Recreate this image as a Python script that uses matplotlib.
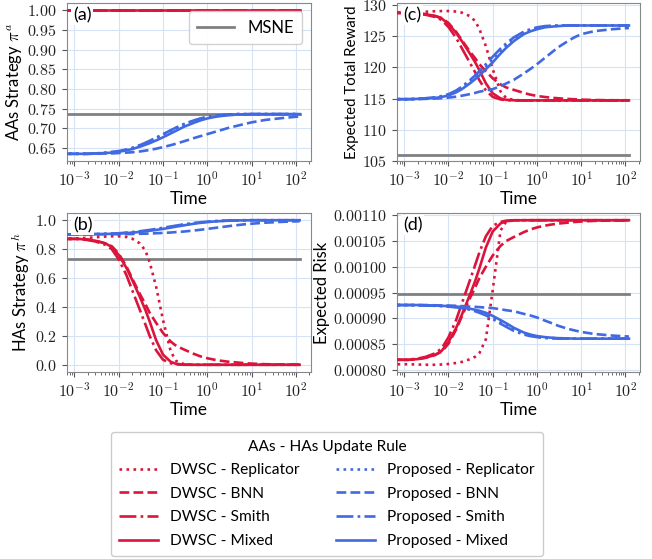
import matplotlib
matplotlib.use("Agg")
import matplotlib.pyplot as plt
from matplotlib.ticker import FuncFormatter, LogLocator, NullFormatter
import numpy as np

plt.rcParams['font.family'] = ['Lato', 'DejaVu Sans']
plt.rcParams['mathtext.fontset'] = 'cm'

# ---------------- data ----------------
T = [0, 0.0012, 0.002, 0.003, 0.005, 0.007, 0.01, 0.015, 0.02, 0.03, 0.04, 0.05, 0.07,
     0.1, 0.15, 0.2, 0.3, 0.5, 0.7, 1, 1.5, 2, 3, 5, 7, 10, 20, 50, 120]

rules = ['Replicator', 'BNN', 'Smith', 'Mixed']

# (a) AAs strategy pi^a
dwsc_a_rep = [1.0] * 29
dwsc_a_bnn = [1.0] * 29
dwsc_a_smith = [1.0] * 29
dwsc_a_mixed = [1.0] * 29
prop_a_rep = [0.635, 0.635, 0.635, 0.636, 0.637, 0.639, 0.641, 0.645, 0.649, 0.656, 0.662, 0.667, 0.675,
              0.684, 0.694, 0.701, 0.710, 0.719, 0.724, 0.728, 0.731, 0.733, 0.735, 0.736, 0.736, 0.736, 0.736, 0.736, 0.736]
prop_a_bnn = [0.635, 0.635, 0.635, 0.635, 0.636, 0.636, 0.637, 0.638, 0.639, 0.641, 0.643, 0.645, 0.648,
              0.652, 0.657, 0.661, 0.667, 0.675, 0.680, 0.685, 0.691, 0.695, 0.701, 0.707, 0.711, 0.715, 0.721, 0.726, 0.730]
prop_a_smith = [0.635, 0.635, 0.635, 0.636, 0.638, 0.640, 0.642, 0.646, 0.650, 0.657, 0.663, 0.668, 0.676,
                0.685, 0.695, 0.702, 0.711, 0.720, 0.725, 0.729, 0.732, 0.733, 0.735, 0.736, 0.736, 0.736, 0.736, 0.736, 0.736]
prop_a_mixed = [0.635, 0.635, 0.635, 0.636, 0.637, 0.638, 0.640, 0.644, 0.647, 0.653, 0.658, 0.662, 0.669,
                0.677, 0.687, 0.694, 0.704, 0.714, 0.720, 0.725, 0.729, 0.731, 0.733, 0.735, 0.735, 0.736, 0.736, 0.736, 0.736]
msne_a = 0.736

# (b) HAs strategy pi^h
dwsc_b_rep = [0.873, 0.875, 0.878, 0.882, 0.887, 0.889, 0.889, 0.884, 0.873, 0.84, 0.79, 0.71, 0.54,
              0.31, 0.09, 0.025, 0.004, 0, 0, 0, 0, 0, 0, 0, 0, 0, 0, 0, 0]
dwsc_b_bnn = [0.873, 0.871, 0.866, 0.858, 0.84, 0.82, 0.77, 0.68, 0.60, 0.49, 0.42, 0.36, 0.29,
              0.22, 0.16, 0.13, 0.105, 0.075, 0.058, 0.045, 0.034, 0.028, 0.021, 0.015, 0.011, 0.008, 0.004, 0.002, 0.001]
dwsc_b_smith = [0.873, 0.870, 0.863, 0.853, 0.83, 0.80, 0.73, 0.62, 0.52, 0.38, 0.28, 0.20, 0.10,
                0.035, 0.01, 0.003, 0, 0, 0, 0, 0, 0, 0, 0, 0, 0, 0, 0, 0]
dwsc_b_mixed = [0.873, 0.871, 0.866, 0.858, 0.84, 0.815, 0.76, 0.67, 0.59, 0.47, 0.38, 0.30, 0.17,
                0.07, 0.02, 0.006, 0.001, 0, 0, 0, 0, 0, 0, 0, 0, 0, 0, 0, 0]
prop_b_rep = [0.902, 0.902, 0.903, 0.904, 0.905, 0.907, 0.909, 0.913, 0.916, 0.922, 0.926, 0.930, 0.937,
              0.944, 0.953, 0.960, 0.969, 0.979, 0.984, 0.989, 0.993, 0.995, 0.997, 0.999, 1.0, 1.0, 1.0, 1.0, 1.0]
prop_b_bnn = [0.902, 0.902, 0.902, 0.902, 0.903, 0.903, 0.903, 0.904, 0.905, 0.906, 0.907, 0.908, 0.910,
              0.912, 0.915, 0.918, 0.922, 0.929, 0.934, 0.940, 0.947, 0.952, 0.959, 0.967, 0.972, 0.976, 0.983, 0.989, 0.993]
prop_b_smith = [0.902, 0.902, 0.903, 0.904, 0.906, 0.907, 0.910, 0.914, 0.918, 0.924, 0.929, 0.933, 0.940,
                0.948, 0.957, 0.963, 0.972, 0.981, 0.986, 0.990, 0.994, 0.996, 0.998, 0.999, 1.0, 1.0, 1.0, 1.0, 1.0]
prop_b_mixed = [0.902, 0.902, 0.903, 0.904, 0.905, 0.906, 0.908, 0.911, 0.914, 0.919, 0.923, 0.927, 0.933,
                0.940, 0.949, 0.956, 0.965, 0.976, 0.982, 0.987, 0.992, 0.994, 0.997, 0.999, 0.999, 1.0, 1.0, 1.0, 1.0]
msne_b = 0.735

# (c) expected total reward
dwsc_c_rep = [128.76, 128.79, 128.84, 128.90, 128.98, 129.01, 129.01, 128.93, 128.76, 128.22, 127.42, 126.13, 123.39,
              119.69, 116.15, 115.10, 114.76, 114.7, 114.7, 114.7, 114.7, 114.7, 114.7, 114.7, 114.7, 114.7, 114.7, 114.7, 114.7]
dwsc_c_bnn = [128.76, 128.72, 128.64, 128.51, 128.22, 127.90, 127.10, 125.65, 124.36, 122.59, 121.46, 120.50, 119.37,
              118.24, 117.28, 116.79, 116.39, 115.91, 115.63, 115.42, 115.25, 115.15, 115.04, 114.94, 114.88, 114.83, 114.76, 114.73, 114.72]
dwsc_c_smith = [128.76, 128.71, 128.59, 128.43, 128.06, 127.58, 126.45, 124.68, 123.07, 120.82, 119.21, 117.92, 116.31,
                115.26, 114.86, 114.75, 114.7, 114.7, 114.7, 114.7, 114.7, 114.7, 114.7, 114.7, 114.7, 114.7, 114.7, 114.7, 114.7]
dwsc_c_mixed = [128.76, 128.72, 128.64, 128.51, 128.22, 127.82, 126.94, 125.49, 124.20, 122.27, 120.82, 119.53, 117.44,
                115.83, 115.02, 114.80, 114.72, 114.7, 114.7, 114.7, 114.7, 114.7, 114.7, 114.7, 114.7, 114.7, 114.7, 114.7, 114.7]
prop_c_rep = [114.9, 114.9, 114.95, 115.02, 115.15, 115.32, 115.6, 116.15, 116.7, 117.65, 118.4, 119.05, 120.1,
              121.25, 122.55, 123.45, 124.45, 125.45, 125.9, 126.25, 126.5, 126.6, 126.65, 126.7, 126.7, 126.7, 126.7, 126.7, 126.7]
prop_c_bnn = [114.9, 114.9, 114.9, 114.95, 115.0, 115.05, 115.15, 115.3, 115.45, 115.7, 115.9, 116.1, 116.3,
              116.5, 117.0, 117.4, 118.0, 119.0, 119.7, 120.5, 121.5, 122.2, 123.2, 124.2, 124.8, 125.3, 125.8, 126.1, 126.3]
prop_c_smith = [114.9, 114.9, 114.95, 115.05, 115.2, 115.4, 115.7, 116.3, 116.9, 117.9, 118.7, 119.4, 120.5,
                121.7, 123.0, 123.8, 124.8, 125.7, 126.1, 126.4, 126.6, 126.65, 126.7, 126.7, 126.7, 126.7, 126.7, 126.7, 126.7]
prop_c_mixed = [114.9, 114.9, 114.95, 115.0, 115.1, 115.25, 115.5, 116.0, 116.5, 117.4, 118.1, 118.7, 119.7,
                120.8, 122.2, 123.1, 124.2, 125.3, 125.75, 126.1, 126.4, 126.5, 126.6, 126.7, 126.7, 126.7, 126.7, 126.7, 126.7]
msne_c = 106.0

# (d) expected risk (x1e-5)
dwsc_d_rep = [81.2, 81.15, 81.1, 81.05, 81.05, 81.1, 81.2, 81.4, 81.6, 82.1, 82.6, 83.3, 86.0,
              95.5, 107.0, 108.7, 109.0, 109.0, 109.0, 109.0, 109.0, 109.0, 109.0, 109.0, 109.0, 109.0, 109.0, 109.0, 109.0]
dwsc_d_bnn = [81.94, 82.00, 82.15, 82.40, 82.96, 83.58, 85.13, 87.92, 90.40, 93.81, 95.98, 97.84, 100.01,
              102.18, 104.04, 104.97, 105.75, 106.68, 107.20, 107.61, 107.95, 108.13, 108.35, 108.54, 108.66, 108.75, 108.88, 108.94, 108.97]
dwsc_d_smith = [81.94, 82.03, 82.25, 82.56, 83.27, 84.20, 86.37, 89.78, 92.88, 97.22, 100.32, 102.80, 105.90,
                107.92, 108.69, 108.91, 109.0, 109.0, 109.0, 109.0, 109.0, 109.0, 109.0, 109.0, 109.0, 109.0, 109.0, 109.0, 109.0]
dwsc_d_mixed = [81.94, 82.00, 82.15, 82.40, 82.96, 83.74, 85.44, 88.23, 90.71, 94.43, 97.22, 99.70, 103.73,
                106.83, 108.38, 108.81, 108.97, 109.0, 109.0, 109.0, 109.0, 109.0, 109.0, 109.0, 109.0, 109.0, 109.0, 109.0, 109.0]
prop_d_rep = [92.6, 92.6, 92.58, 92.52, 92.47, 92.42, 92.35, 92.22, 92.1, 91.8, 91.55, 91.3, 90.85,
              90.2, 89.35, 88.75, 87.9, 87.1, 86.75, 86.5, 86.3, 86.25, 86.15, 86.1, 86.1, 86.1, 86.1, 86.1, 86.1]
prop_d_bnn = [92.6, 92.6, 92.6, 92.6, 92.55, 92.5, 92.5, 92.45, 92.4, 92.3, 92.25, 92.2, 92.1,
              92.0, 91.8, 91.6, 91.4, 90.9, 90.6, 90.2, 89.6, 89.2, 88.6, 88.0, 87.7, 87.4, 87.0, 86.7, 86.5]
prop_d_smith = [92.6, 92.6, 92.55, 92.5, 92.45, 92.4, 92.3, 92.15, 92.0, 91.7, 91.4, 91.1, 90.6,
                89.9, 89.0, 88.4, 87.6, 86.9, 86.6, 86.4, 86.2, 86.2, 86.1, 86.1, 86.1, 86.1, 86.1, 86.1, 86.1]
prop_d_mixed = [92.6, 92.6, 92.6, 92.55, 92.5, 92.45, 92.4, 92.3, 92.2, 91.9, 91.7, 91.5, 91.1,
                90.5, 89.7, 89.1, 88.2, 87.3, 86.9, 86.6, 86.4, 86.3, 86.2, 86.15, 86.1, 86.1, 86.1, 86.1, 86.1]
msne_d = 94.8
risk_scale = 1e-5

# ---------------- styling ----------------
RED = '#DC143C'
BLUE = '#4169E1'
GRAY = '#808080'
styles = {'Replicator': ':', 'BNN': '--', 'Smith': '-.', 'Mixed': '-'}
LW = 1.9

fig = plt.figure(figsize=(6.52, 5.59), dpi=100)
W, H = 652, 559


def pos(l, r, t, b):
    return [l / W, 1 - b / H, (r - l) / W, (b - t) / H]


ax_a = fig.add_axes(pos(66.7, 310.7, 3, 161))
ax_c = fig.add_axes(pos(396.7, 640, 3, 161))
ax_b = fig.add_axes(pos(66.7, 310.7, 213, 372))
ax_d = fig.add_axes(pos(396.7, 640, 213, 372))

panels = [
    (ax_a, '(a)', r'AAs Strategy $\pi^a$',
     [dwsc_a_rep, dwsc_a_bnn, dwsc_a_smith, dwsc_a_mixed],
     [prop_a_rep, prop_a_bnn, prop_a_smith, prop_a_mixed], msne_a, 1.0, '{:.2f}', 12),
    (ax_b, '(b)', r'HAs Strategy $\pi^h$',
     [dwsc_b_rep, dwsc_b_bnn, dwsc_b_smith, dwsc_b_mixed],
     [prop_b_rep, prop_b_bnn, prop_b_smith, prop_b_mixed], msne_b, 1.0, '{:.1f}', 12),
    (ax_c, '(c)', 'Expected Total Reward',
     [dwsc_c_rep, dwsc_c_bnn, dwsc_c_smith, dwsc_c_mixed],
     [prop_c_rep, prop_c_bnn, prop_c_smith, prop_c_mixed], msne_c, 1.0, '{:.0f}', 10.8),
    (ax_d, '(d)', 'Expected Risk',
     [dwsc_d_rep, dwsc_d_bnn, dwsc_d_smith, dwsc_d_mixed],
     [prop_d_rep, prop_d_bnn, prop_d_smith, prop_d_mixed], msne_d, risk_scale, '{:.5f}', 12),
]

handles_dwsc = []
handles_prop = []
for ax, lab, ylab, dw, pr, msne, scale, fmt, yfs in panels:
    ax.set_xscale('log')
    msne_line, = ax.plot(T, [msne * scale] * len(T), color=GRAY, lw=2.0, label='MSNE', zorder=2)
    hd, hp = [], []
    for rule, ys in zip(rules, dw):
        h, = ax.plot(T, np.array(ys) * scale, color=RED, ls=styles[rule], lw=LW,
                     label=f'DWSC - {rule}', zorder=3)
        hd.append(h)
    for rule, ys in zip(rules, pr):
        h, = ax.plot(T, np.array(ys) * scale, color=BLUE, ls=styles[rule], lw=LW,
                     label=f'Proposed - {rule}', zorder=3)
        hp.append(h)
    if not handles_dwsc:
        handles_dwsc, handles_prop = hd, hp
        ax.legend([msne_line], ['MSNE'], loc='upper right', fontsize=12,
                  handlelength=2.2, borderpad=0.5, framealpha=0.9, edgecolor='#cccccc')
    ax.grid(True, which='major', color='#d6e2f5', lw=0.8)
    ax.xaxis.set_major_locator(LogLocator(base=10, numticks=10))
    ax.xaxis.set_minor_locator(LogLocator(base=10, subs=np.arange(2, 10), numticks=10))
    ax.xaxis.set_minor_formatter(NullFormatter())
    ax.xaxis.set_major_formatter(FuncFormatter(lambda v, p: r'$10^{%d}$' % round(np.log10(v))))
    ax.yaxis.set_major_formatter(FuncFormatter(lambda v, p, f=fmt: '$' + f.format(v) + '$'))
    ax.tick_params(labelsize=11.5, colors='#555555', labelcolor='#222222', length=3.5)
    ax.tick_params(which='minor', length=2, colors='#555555')
    for s in ax.spines.values():
        s.set_color('#888888')
    ax.set_xlabel('Time', fontsize=12.5, labelpad=1)
    ax.set_ylabel(ylab, fontsize=yfs, labelpad=2)
    ax.text(0.025, 0.975, lab, transform=ax.transAxes, ha='left', va='top', fontsize=13,
            bbox=dict(facecolor='white', edgecolor='none', pad=1.5), zorder=6)

ax_a.set_yticks([0.65, 0.70, 0.75, 0.80, 0.85, 0.90, 0.95, 1.00])
ax_c.set_ylim(105, 130.3)
ax_c.set_yticks([105, 110, 115, 120, 125, 130])
ax_b.set_yticks([0.0, 0.2, 0.4, 0.6, 0.8, 1.0])
ax_d.set_yticks([0.0008, 0.00085, 0.0009, 0.00095, 0.001, 0.00105, 0.0011])

leg = fig.legend(handles_dwsc + handles_prop,
                 [h.get_label() for h in handles_dwsc + handles_prop],
                 loc='upper center', bbox_to_anchor=(327 / W, 1 - 424 / H), ncol=2,
                 title='AAs - HAs Update Rule', fontsize=11.2, title_fontsize=11.2,
                 handlelength=2.5, handletextpad=0.8, columnspacing=2.3, labelspacing=0.62,
                 borderpad=0.5, edgecolor='#cccccc', framealpha=1.0)

fig.savefig('out.png', dpi=100)
